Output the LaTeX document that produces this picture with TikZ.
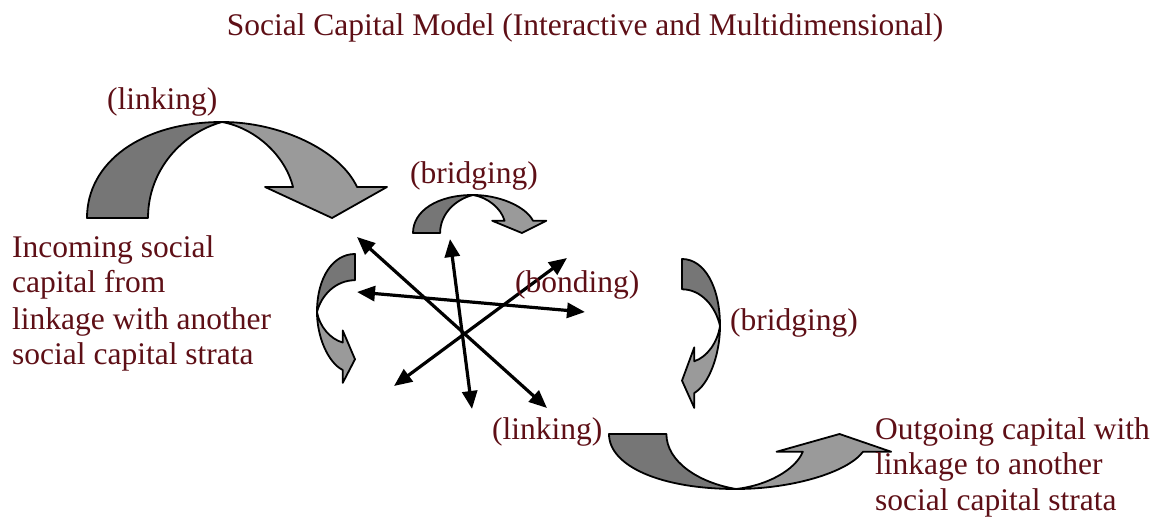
\documentclass[tikz,border=0pt]{standalone}
\usepackage{fontspec}
\setmainfont{Liberation Serif}
\usetikzlibrary{arrows.meta}
\definecolor{txt}{HTML}{5E0F16}
\definecolor{darkband}{HTML}{767676}
\definecolor{lightband}{HTML}{9A9A9A}
\tikzset{
  band/.style={draw=black, line width=1.8pt, line join=round},
  back/.style={band, fill=darkband},
  front/.style={band, fill=lightband},
  lbl/.style={text=txt, font=\fontsize{31.5}{36}\selectfont, inner sep=0pt, anchor=base west},
  star/.style={line width=3.2pt, {Triangle[length=18pt,width=15pt]}-{Triangle[length=18pt,width=15pt]}}
}
\newcommand\bandarrow{%
  \path[back] (0,0) .. controls (0,0.583) and (0.407,1) .. (1,1)
     .. controls (0.704,0.885) and (0.452,0.5) .. (0.452,0) -- cycle;
  \path[front] (1,1) .. controls (1.43,1) and (1.874,0.708) .. (2,0.323)
     -- (2.222,0.323) -- (1.815,0) -- (1.319,0.323) -- (1.526,0.323)
     .. controls (1.467,0.656) and (1.244,0.9375) .. (1,1) -- cycle;
}
\begin{document}
\begin{tikzpicture}[x=1pt,y=-1pt]
\useasboundingbox (0,0) rectangle (1157,518);
% curved band arrows
\begin{scope}[shift={(87,218)}, x={(135pt,0pt)}, y={(0pt,96pt)}] \bandarrow \end{scope}
\begin{scope}[shift={(413,233)}, x={(60pt,0pt)}, y={(0pt,38pt)}] \bandarrow \end{scope}
\begin{scope}[shift={(355,254)}, x={(0pt,-58pt)}, y={(-38pt,0pt)}] \bandarrow \end{scope}
\begin{scope}[shift={(682,259)}, x={(0pt,-67pt)}, y={(38pt,0pt)}] \bandarrow \end{scope}
\begin{scope}[shift={(609,434)}, x={(127pt,0pt)}, y={(0pt,-55pt)}] \bandarrow \end{scope}
% star of double arrows
\coordinate (s1a) at (357,237); \coordinate (s1b) at (547,408);
\coordinate (s2a) at (450,239); \coordinate (s2b) at (472,409);
\coordinate (s3a) at (357,292); \coordinate (s3b) at (585,312);
\coordinate (s4a) at (567,258); \coordinate (s4b) at (394,386);
\draw[star] (s1a) -- (s1b);
\draw[star] (s2a) -- (s2b);
\draw[star] (s3a) -- (s3b);
\draw[star] (s4a) -- (s4b);
% texts
\node[lbl, anchor=base] (title) at (585,36) {Social Capital Model (Interactive and Multidimensional)};
\node[lbl] (link1) at (107,110) {(linking)};
\node[lbl] (bridge1) at (410,184) {(bridging)};
\node[lbl] (in1) at (12,258) {Incoming social};
\node[lbl] (in2) at (12,293) {capital from};
\node[lbl] (in3) at (12,330) {linkage with another};
\node[lbl] (in4) at (12,365) {social capital strata};
\node[lbl] (bond) at (515,293) {(bonding)};
\node[lbl] (bridge2) at (730,331) {(bridging)};
\node[lbl] (link2) at (492,440) {(linking)};
\node[lbl] (out1) at (875,440) {Outgoing capital with};
\node[lbl] (out2) at (875,475) {linkage to another};
\node[lbl] (out3) at (875,510) {social capital strata};
\end{tikzpicture}
\end{document}
